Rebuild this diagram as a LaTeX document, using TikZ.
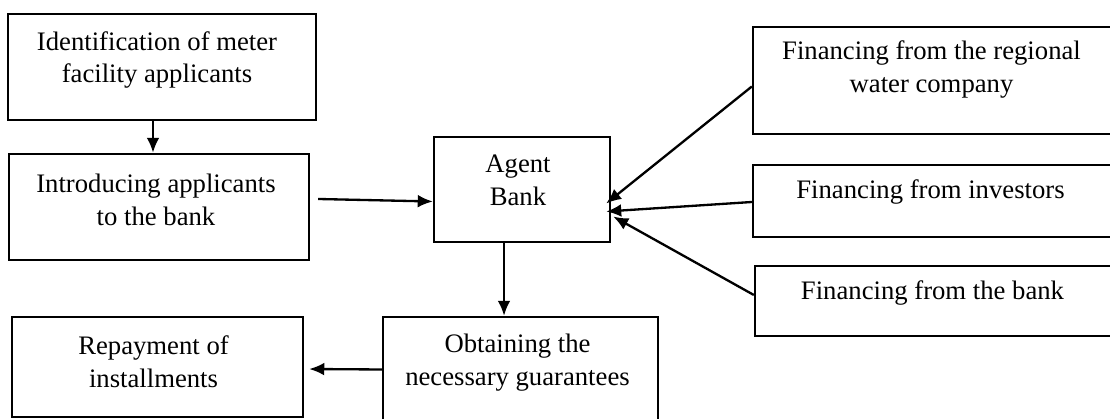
\documentclass[tikz,border=0pt]{standalone}
\usepackage{fontspec}
\setmainfont{Liberation Serif}
\usetikzlibrary{calc}
\usetikzlibrary{fit}
\usetikzlibrary{arrows.meta}

\begin{document}
\begin{tikzpicture}[x=0.431pt, y=-0.431pt, >={Latex[length=6.5pt,width=5.5pt]},
    box/.style={draw, line width=1pt, inner sep=0pt},
    txt/.style={align=center, inner sep=0pt, font=\fontsize{11.5}{14.2}\selectfont},
    arr/.style={->, line width=1pt}]
\useasboundingbox (0,0) rectangle (1110,419);

% --- left column ---
\node[box, fit={(8,14) (316,120)}] (ident) {};
\node[box, fit={(9,154) (309,260)}] (intro) {};
\node[box, fit={(12,317) (303,417)}] (repay) {};
\node[txt] (identT) at ($(ident.center)+(-5,-7)$) {Identification of meter\\facility applicants};
\node[txt] (introT) at ($(intro.center)+(-3,-7)$) {Introducing applicants\\to the bank};
\node[txt] (repayT) at ($(repay.center)+(-4,-5)$) {Repayment of\\installments};

% --- middle ---
\node[box, fit={(434,137) (610,242)}] (agent) {};
\node[box, fit={(383,317) (658,426)}] (obtain) {};
\node[txt] (agentT) at ($(agent.center)+(-4,-9)$) {Agent\\Bank};
\node[txt] (obtainT) at ($(obtain.center)+(-3,-9)$) {Obtaining the\\necessary guarantees};

% --- sources of finance ---
\node[box, fit={(753,27) (1114,134)}] (regional) {};
\node[box, fit={(753,165) (1114,237)}] (investors) {};
\node[box, fit={(755,266) (1114,336)}] (bankfin) {};
\node[txt] (regionalT) at ($(regional.center)+(-2,-11)$) {Financing from the regional\\water company};
\node[txt] (investorsT) at ($(investors.center)+(-3,-9)$) {Financing from investors};
\node[txt] (bankfinT) at ($(bankfin.center)+(-2,-8)$) {Financing from the bank};

% --- arrows ---
\coordinate (identOut) at ($(ident.south)+(-9,0)$);
\coordinate (agentOut) at ($(agent.south)+(-18,0)$);
\draw[arr] (identOut) -- (identOut |- intro.north);
\draw[arr] ($(intro.east)+(8,-8)$) -- ($(agent.west)+(0,12)$);
\draw[arr] (agentOut) -- (agentOut |- obtain.north);
\draw[arr] ($(obtain.west)+(0,-2)$) -- ($(repay.east)+(5,2)$);
\draw[arr] ($(regional.west)+(0,6)$) -- ($(agent.east)+(-5,14)$);
\draw[arr] ($(investors.west)+(0,1)$) -- ($(agent.east)+(-5,22)$);
\draw[arr] ($(bankfin.west)+(0,-6)$) -- ($(agent.east)+(2,27)$);
\end{tikzpicture}
\end{document}
